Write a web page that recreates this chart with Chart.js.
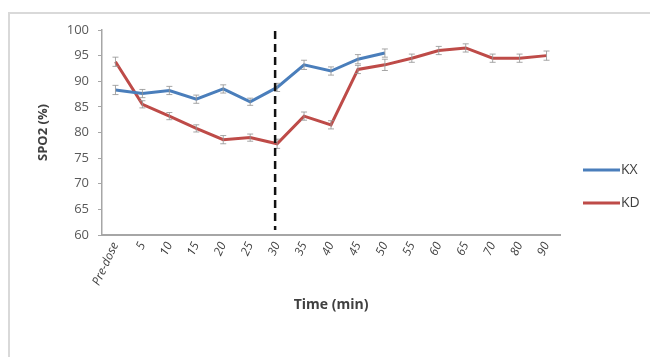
<!DOCTYPE html>
<html lang="en">
<head>
<meta charset="UTF-8">
<title>SPO2 over time</title>
<style>
  * { margin: 0; padding: 0; box-sizing: border-box; }
  body { background: #fff; width: 650px; height: 357px; overflow: hidden; position: relative; }
  .frame { position: absolute; left: 8px; top: 12px; width: 660px; height: 360px; border: 2px solid #d9d9d9; }
  #wrap { position: absolute; left: 0; top: 0; width: 650px; height: 357px; }
</style>
<script src="https://cdn.jsdelivr.net/npm/chart.js"></script>
</head>
<body>
<div class="frame"></div>
<div id="wrap"><canvas id="chart" width="650" height="357"></canvas></div>
<script>
// data
const times = ['Pre-dose', '5', '10', '15', '20', '25', '30', '35', '40', '45', '50', '55', '60', '65', '70', '80', '90'];
const kx = [88.3, 87.6, 88.2, 86.5, 88.5, 86.0, 88.8, 93.2, 92.0, 94.3, 95.5, null, null, null, null, null, null];
const kd = [93.8, 85.5, 83.2, 80.8, 78.6, 79.0, 77.8, 83.2, 81.5, 92.3, 93.2, 94.5, 96.0, 96.5, 94.5, 94.5, 95.0];
const kxErr = [0.9, 0.8, 0.8, 0.8, 0.8, 0.7, 0.8, 0.9, 0.8, 0.9, 0.8, null, null, null, null, null, null];
const kdErr = [0.9, 0.7, 0.7, 0.7, 0.8, 0.7, 0.9, 0.8, 0.8, 0.8, 1.1, 0.8, 0.8, 0.8, 0.8, 0.8, 0.9];
const yTicks = [60, 65, 70, 75, 80, 85, 90, 95, 100];
const markerTime = '30';

const font = "'Open Sans', 'Liberation Sans', sans-serif";

// error bars + dashed marker line + legend
const extras = {
  id: 'extras',
  afterDatasetsDraw(chart) {
    const ctx = chart.ctx;
    const x = chart.scales.x, y = chart.scales.y;
    const errs = [kxErr, kdErr];
    ctx.save();
    chart.data.datasets.forEach((ds, i) => {
      ctx.strokeStyle = 'rgba(150,150,150,0.85)';
      ctx.lineWidth = 1;
      ds.data.forEach((v, j) => {
        if (v == null) return;
        const px = x.getPixelForValue(j);
        const top = y.getPixelForValue(v + errs[i][j]);
        const bot = y.getPixelForValue(v - errs[i][j]);
        ctx.beginPath();
        ctx.moveTo(px, top); ctx.lineTo(px, bot);
        ctx.moveTo(px - 3, top); ctx.lineTo(px + 3, top);
        ctx.moveTo(px - 3, bot); ctx.lineTo(px + 3, bot);
        ctx.stroke();
      });
    });
    // dashed vertical line at 30 min
    const mx = x.getPixelForValue(times.indexOf(markerTime)) - 2;
    ctx.strokeStyle = '#111';
    ctx.lineWidth = 2.5;
    ctx.setLineDash([8, 5]);
    ctx.beginPath();
    ctx.moveTo(mx, y.getPixelForValue(99.8));
    ctx.lineTo(mx, y.getPixelForValue(61));
    ctx.stroke();
    ctx.setLineDash([]);
    // legend
    ctx.font = '14px ' + font;
    ctx.textBaseline = 'middle';
    chart.data.datasets.forEach((ds, i) => {
      const ly = 170 + i * 33;
      ctx.strokeStyle = ds.borderColor;
      ctx.lineWidth = 3;
      ctx.beginPath();
      ctx.moveTo(583, ly); ctx.lineTo(620, ly);
      ctx.stroke();
      ctx.fillStyle = '#404040';
      ctx.fillText(ds.label, 621, ly);
    });
    ctx.restore();
  }
};

new Chart(document.getElementById('chart'), {
  type: 'line',
  data: {
    labels: times,
    datasets: [
      { label: 'KX', data: kx, borderColor: '#4a7ebb', borderWidth: 3, pointRadius: 0, tension: 0, spanGaps: false },
      { label: 'KD', data: kd, borderColor: '#be4b48', borderWidth: 3, pointRadius: 0, tension: 0 }
    ]
  },
  options: {
    responsive: false,
    animation: false,
    layout: { padding: { left: 0, right: 90, top: 30, bottom: 40 } },
    plugins: { legend: { display: false }, tooltip: { enabled: false } },
    scales: {
      x: {
        offset: true,
        grid: { display: false, drawTicks: false },
        border: { color: '#a6a6a6', width: 2 },
        ticks: {
          minRotation: 65, maxRotation: 65, autoSkip: false, padding: 5,
          color: '#404040', font: { family: font, size: 12, style: 'italic' }
        },
        title: { display: true, text: 'Time (min)', color: '#404040', padding: { top: 0 }, font: { family: font, size: 14, weight: 'bold' } },
        afterFit(s) { s.height = 82; }
      },
      y: {
        min: 60, max: 100,
        afterBuildTicks(s) { s.ticks = yTicks.map(v => ({ value: v })); },
        grid: { drawOnChartArea: false, tickLength: 4, color: '#a6a6a6' },
        border: { color: '#a6a6a6', width: 1.5 },
        ticks: { color: '#595959', padding: 9, font: { family: font, size: 13 } },
        title: { display: true, text: 'SPO2 (%)', color: '#404040', padding: { top: 35, bottom: 0 }, font: { family: font, size: 13, weight: 'bold' } },
        afterFit(s) { s.width = 102; }
      }
    }
  },
  plugins: [extras]
});
</script>
</body>
</html>
